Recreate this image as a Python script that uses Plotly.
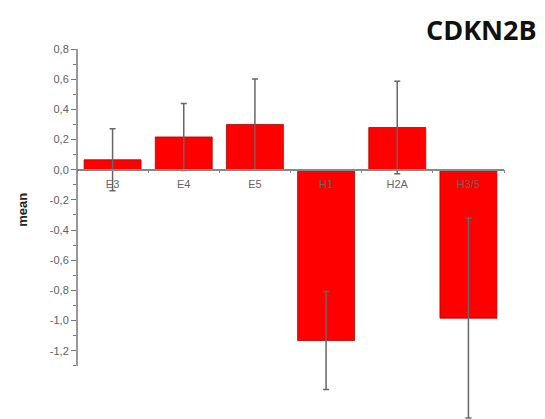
import plotly.graph_objects as go

categories = ["E3", "E4", "E5", "H1", "H2A", "H3/5"]
means = [0.066, 0.217, 0.300, -1.132, 0.280, -0.984]
errors = [0.205, 0.222, 0.302, 0.325, 0.306, 0.662]

ytick_vals = [0.8, 0.6, 0.4, 0.2, 0.0, -0.2, -0.4, -0.6, -0.8, -1.0, -1.2]
ytick_text = ["0,8", "0,6", "0,4", "0,2", "0,0", "-0,2", "-0,4", "-0,6", "-0,8", "-1,0", "-1,2"]
yminor_vals = [0.7, 0.5, 0.3, 0.1, -0.1, -0.3, -0.5, -0.7, -0.9, -1.1, -1.3]

y_range = [-1.652, 0.8]
axis_bottom = -1.3

# page body has an 8px default margin; size the figure to fit the window
OFF = 8
W, H = 545 - OFF, 419 - OFF
ML, MR, MT, MB = 77 - OFF, 41, 49 - OFF, 0
plot_w = W - ML - MR
plot_h = H - MT - MB

fig = go.Figure()
fig.add_trace(go.Bar(
    x=categories, y=means,
    marker=dict(color="#ff0000", line=dict(color="#b00000", width=0.8)),
    error_y=dict(type="data", array=errors, visible=True, color="#666666",
                 thickness=1.5, width=3),
    width=0.8,
))

zero_frac = (0 - y_range[0]) / (y_range[1] - y_range[0])

fig.update_layout(
    width=W, height=H,
    margin=dict(l=ML, r=MR, t=MT, b=MB, autoexpand=False),
    plot_bgcolor="white", paper_bgcolor="white",
    showlegend=False,
    font=dict(family="Liberation Sans, Arial, sans-serif", color="#555555"),
    annotations=[
        dict(text="<b>CDKN2B</b>", x=1 + ((539 - OFF) - (W - MR)) / plot_w, xref="paper",
             xanchor="right", y=1 + (MT - (29 - OFF)) / plot_h, yref="paper",
             yanchor="middle", showarrow=False,
             font=dict(family="Open Sans, sans-serif", size=27, color="#111111")),
        dict(text="<b>mean</b>", x=((23 - OFF) - ML) / plot_w, xref="paper",
             xanchor="center", y=-0.265, yref="y", yanchor="middle",
             textangle=-90, showarrow=False,
             font=dict(size=13, color="#222222")),
    ],
)

fig.update_xaxes(
    type="category", range=[-0.5, 5.5],
    anchor="free", position=zero_frac, automargin=False,
    showline=True, linecolor="#888888", linewidth=1.5,
    ticks="outside", ticklen=3, tickcolor="#888888", tickson="boundaries",
    ticklabelstandoff=4,
    tickfont=dict(size=11, color="#666666"),
    showgrid=False, zeroline=False, layer="above traces",
)
fig.update_yaxes(
    range=y_range, automargin=False,
    tickvals=ytick_vals, ticktext=ytick_text,
    ticks="outside", ticklen=5, tickcolor="#777777", tickwidth=1.2,
    minor=dict(tickvals=yminor_vals, ticks="outside", ticklen=3,
               tickcolor="#777777", showgrid=False),
    tickfont=dict(size=11, color="#606060"),
    showline=False, showgrid=False, zeroline=False,
)
fig.add_shape(type="line", xref="paper", yref="y", x0=0, x1=0,
              y0=axis_bottom, y1=y_range[1],
              line=dict(color="#777777", width=1.5))

fig.write_html("out.html")
